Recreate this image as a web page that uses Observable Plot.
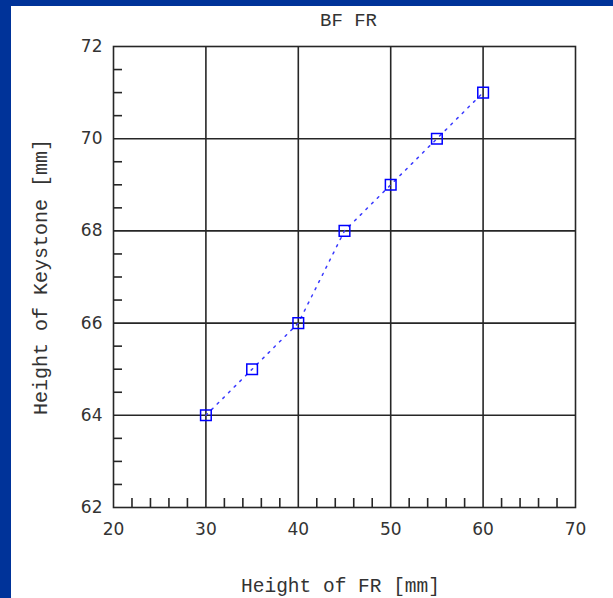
<!DOCTYPE html>
<html><head><meta charset="utf-8">
<script src="https://cdn.jsdelivr.net/npm/d3@7"></script>
<script src="https://cdn.jsdelivr.net/npm/@observablehq/plot@0.6"></script>
<style>
body{margin:0;background:#fff;}
#wrap{position:relative;width:613px;height:598px;overflow:hidden;background:#fff;}
#wrap svg{position:absolute;left:0;top:0;}
.bl{position:absolute;background:#003399;}
</style></head><body>
<div id="wrap"><div class="bl" style="left:0;top:0;width:11px;height:598px"></div><div class="bl" style="left:0;top:0;width:613px;height:6px"></div></div>
<script>
const heightFR = [30, 35, 40, 45, 50, 55, 60];
const heightKeystone = [64, 65, 66, 68, 69, 70, 71];
const xTicks = [20, 30, 40, 50, 60, 70];
const yTicks = [62, 64, 66, 68, 70, 72];
const xGrid = [30, 40, 50, 60];
const yGrid = [64, 66, 68, 70];
const xMinor = [22, 24, 26, 28, 32, 34, 36, 38, 42, 44, 46, 48, 52, 54, 56, 58, 62, 64, 66, 68];
const yMinor = [62.5, 63, 63.5, 64.5, 65, 65.5, 66.5, 67, 67.5, 68.5, 69, 69.5, 70.5, 71, 71.5];
const title = "BF FR";
const xLabel = "Height of FR [mm]";
const yLabel = "Height of Keystone [mm]";

const data = heightFR.map((x, i) => ({x, y: heightKeystone[i]}));
const lineColor = "#262626";
const mono = "'Liberation Mono', 'Courier New', monospace";
const sans = "'DejaVu Sans', Verdana, sans-serif";

const chart = Plot.plot({
  width: 613,
  height: 598,
  marginLeft: 113,
  marginRight: 38,
  marginTop: 46,
  marginBottom: 91,
  style: {background: "transparent", fontFamily: sans, fontSize: "17px", overflow: "visible"},
  x: {domain: [20, 70]},
  y: {domain: [62, 72]},
  marks: [
    Plot.ruleX(xGrid, {stroke: lineColor, strokeWidth: 1.6}),
    Plot.ruleY(yGrid, {stroke: lineColor, strokeWidth: 1.6}),
    Plot.axisX({ticks: xMinor, tickSize: 9, dy: -9, text: null, label: null, stroke: lineColor, strokeWidth: 1.6}),
    Plot.axisY({ticks: yMinor, tickSize: 9, dx: 9, text: null, label: null, stroke: lineColor, strokeWidth: 1.6}),
    Plot.axisX({ticks: xTicks, tickSize: 0, tickPadding: 15, label: null, fontSize: 17, fontFamily: sans, fill: "#333"}),
    Plot.axisY({ticks: yTicks, tickSize: 0, tickPadding: 11, label: null, fontSize: 17, fontFamily: sans, fill: "#333"}),
    Plot.frame({stroke: lineColor, strokeWidth: 1.6}),
    Plot.line(data, {x: "x", y: "y", stroke: "#3a3aff", strokeWidth: 1.5, strokeDasharray: "2,6"}),
    Plot.dot(data, {x: "x", y: "y", symbol: "square", r: 6, stroke: "#0000ff", strokeWidth: 1.5, fill: "none"}),
    Plot.text([title], {frameAnchor: "top", dy: -27, dx: 4, text: d => d, fontFamily: mono, fontSize: 19, fill: "#333", lineAnchor: "middle"}),
    Plot.text([xLabel], {frameAnchor: "bottom", dy: 78, dx: -4, text: d => d, fontFamily: mono, fontSize: 19.5, fill: "#333", lineAnchor: "middle"}),
    Plot.text([yLabel], {frameAnchor: "left", dx: -73, rotate: -90, text: d => d, fontFamily: mono, fontSize: 20, fill: "#333", textAnchor: "middle", lineAnchor: "middle"})
  ]
});
document.getElementById("wrap").prepend(chart);
</script>
</body></html>
